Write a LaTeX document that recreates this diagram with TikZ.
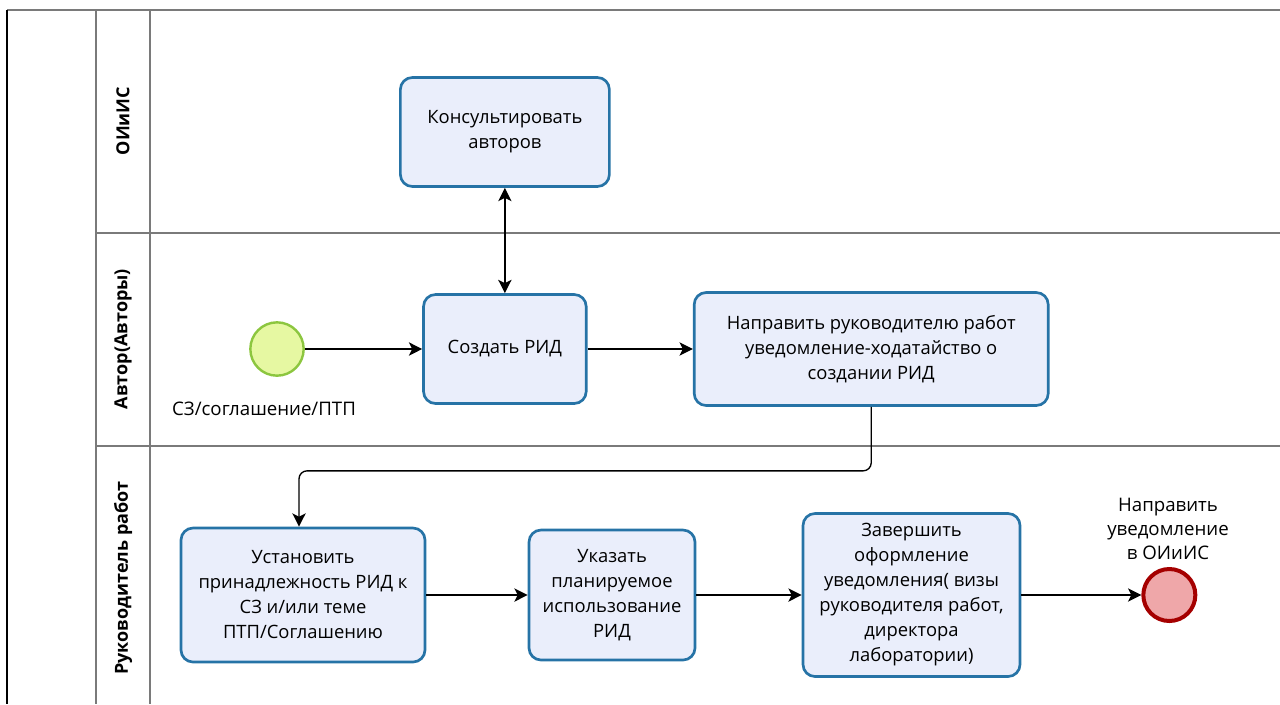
\documentclass[tikz,border=0pt]{standalone}
\usepackage{fontspec}
\setmainfont{Open Sans}
\usetikzlibrary{arrows.meta,positioning,calc}

\definecolor{taskfill}{HTML}{EAEEFB}
\definecolor{taskline}{HTML}{2673A6}
\definecolor{startfill}{HTML}{E6F8A2}
\definecolor{startline}{HTML}{8CC63F}
\definecolor{endfill}{HTML}{EFA7A9}
\definecolor{endline}{HTML}{A50000}
\definecolor{poolline}{HTML}{7A7A7A}

\begin{document}
\begin{tikzpicture}[
    x=0.75pt, y=-0.75pt,
    task/.style={rectangle, draw=taskline, fill=taskfill, line width=2pt, rounded corners=9pt, align=center, inner sep=2pt, font=\fontsize{13.8}{18.75}\selectfont},
    startev/.style={circle, draw=startline, fill=startfill, line width=1.8pt, minimum size=40pt, inner sep=0pt},
    endev/.style={circle, draw=endline, fill=endfill, line width=3pt, minimum size=39pt, inner sep=0pt},
    lane/.style={rotate=90, font=\bfseries\fontsize{13.5}{15}\selectfont},
    evlabel/.style={align=center, font=\fontsize{14}{18}\selectfont},
    pool/.style={draw=poolline, line width=1.2pt},
    arrow/.style={-{Stealth[length=10pt,width=10pt,inset=2.5pt]}, line width=1pt},
    dblarrow/.style={{Stealth[length=10pt,width=10pt,inset=2.5pt]}-{Stealth[length=10pt,width=10pt,inset=2.5pt]}, line width=1pt}
]
\useasboundingbox (0,0) rectangle (1280,704);

% Pool and lanes
\draw[pool] (1280,10) -- (7,10);
\draw[line width=1.5pt] (7,10) -- (7,704);
\draw[pool] (96,10) -- (96,704);
\draw[pool] (150,10) -- (150,704);
\draw[pool] (96,233) -- (1280,233);
\draw[pool] (96,446) -- (1280,446);

\node[lane] (laneoi) at (123,121) {ОИиИС};
\node[lane] (laneav) at (123,339) {Автор(Авторы)};
\node[lane] (laneruk) at (123,578) {Руководитель работ};

% Author lane
\node[startev] (start) at (277,349) {};
\node[evlabel] (startlbl) at (264,409) {СЗ/соглашение/ПТП};
\node[task, minimum width=122pt, minimum height=81.75pt, right=88pt of start] (sozd) {Создать РИД};
\node[task, minimum width=265.5pt, minimum height=84.75pt, right=79pt of sozd] (napr) {Направить руководителю работ\\уведомление-ходатайство о\\создании РИД};

% OIiIS lane
\node[task, minimum width=156.75pt, minimum height=81.75pt, above=79pt of sozd] (kons) {Консультировать\\авторов};

% Head of works lane
\node[task, minimum width=183pt, minimum height=100.5pt] (ust) at (303,595) {Установить\\принадлежность РИД к\\СЗ и/или теме\\ПТП/Соглашению};
\node[task, minimum width=124.5pt, minimum height=97.5pt, right=76pt of ust] (uk) {Указать\\планируемое\\использование\\РИД};
\node[task, minimum width=162.75pt, minimum height=122.25pt, right=79pt of uk] (zav) {Завершить\\оформление\\уведомления( визы\\руководителя работ,\\директора\\лаборатории)};
\node[endev, right=90pt of zav] (finish) {};
\node[evlabel] (finishlbl) at (1168,529) {Направить\\уведомление\\в ОИиИС};

% Arrows
\draw[dblarrow] (kons) -- (sozd);
\draw[arrow] (start) -- (sozd);
\draw[arrow] (sozd) -- (napr);
\draw[arrow, rounded corners=6pt] (napr.south) -- ++(0,64) -| ($(ust.north)+(-4,0)$);
\draw[arrow] (ust) -- (uk);
\draw[arrow] (uk) -- (zav);
\draw[arrow] (zav) -- (finish);
\end{tikzpicture}
\end{document}
